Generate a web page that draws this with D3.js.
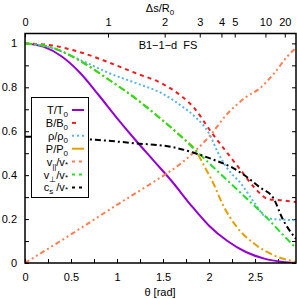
<!DOCTYPE html>
<meta charset="utf-8">
<style>
body { margin: 0; background: #fff; }
svg { display: block; font-family: "Liberation Sans", Arial, sans-serif; }
.axis text { font-size: 11px; fill: #000; }
.axis .domain { display: none; }
.axis line { stroke: #000; stroke-width: 1; }
.curve { fill: none; }
</style>
<body>
<svg width="297" height="299"></svg>
<script src="https://d3js.org/d3.v7.min.js"></script>
<script>

// theta [rad] sample points and values
var thetaT   = [0, 0.2, 0.4, 0.6, 0.8, 1.0, 1.2, 1.4, 1.6, 1.8, 2.0, 2.2, 2.4, 2.6, 2.8, 2.945];
var valT     = [1, 0.985, 0.94, 0.865, 0.765, 0.66, 0.56, 0.465, 0.37, 0.265, 0.17, 0.1, 0.05, 0.02, 0.005, 0];

var thetaB   = [0, 0.3, 0.6, 0.9, 1.2, 1.5, 1.7, 1.85, 2.0, 2.2, 2.35, 2.5, 2.65, 2.8, 2.945];
var valB     = [1, 0.99, 0.96, 0.915, 0.865, 0.815, 0.76, 0.70, 0.61, 0.5, 0.42, 0.34, 0.29, 0.285, 0.278];

var thetaRho = [0, 0.3, 0.6, 0.9, 1.2, 1.5, 1.7, 1.85, 2.0, 2.1, 2.2, 2.35, 2.5, 2.6, 2.7, 2.945];
var valRho   = [1, 0.978, 0.925, 0.867, 0.82, 0.77, 0.715, 0.665, 0.59, 0.5, 0.43, 0.36, 0.27, 0.215, 0.2, 0.195];

var thetaP   = [0, 0.3, 0.6, 0.9, 1.2, 1.5, 1.7, 1.85, 1.95, 2.05, 2.15, 2.3, 2.5, 2.7, 2.945];
var valP     = [1, 0.98, 0.92, 0.838, 0.75, 0.648, 0.575, 0.515, 0.44, 0.36, 0.265, 0.165, 0.085, 0.036, 0.005];

var thetaVpar = [0, 0.5, 1.0, 1.4, 1.7, 1.85, 2.0, 2.2, 2.4, 2.55, 2.7, 2.85, 2.945];
var valVpar   = [0, 0.13, 0.265, 0.37, 0.455, 0.51, 0.575, 0.68, 0.755, 0.795, 0.86, 0.94, 0.98];

var thetaVperp = [0, 0.3, 0.6, 0.9, 1.2, 1.5, 1.7, 1.85, 2.0, 2.2, 2.4, 2.6, 2.8, 2.945];
var valVperp   = [1, 0.98, 0.92, 0.838, 0.75, 0.648, 0.575, 0.515, 0.455, 0.376, 0.297, 0.218, 0.13, 0.068];

var thetaCs  = [0, 0.4, 0.8, 1.2, 1.6, 1.85, 2.05, 2.25, 2.4, 2.55, 2.7, 2.8, 2.945];
var valCs    = [0.575, 0.57, 0.56, 0.545, 0.528, 0.5, 0.47, 0.435, 0.395, 0.345, 0.295, 0.2, 0.11];

// top axis: delta s / R0 labels and the theta where they sit
var topTickLabels = ["0", "1", "2", "3", "4", "5", "10", "20"];
var topTickTheta  = [0, 0.902, 1.518, 1.899, 2.135, 2.279, 2.613, 2.823];

var xTicks = [0, 0.25, 0.5, 0.75, 1, 1.25, 1.5, 1.75, 2, 2.25, 2.5, 2.75];
var yTicks = [0, 0.1, 0.2, 0.3, 0.4, 0.5, 0.6, 0.7, 0.8, 0.9, 1.0];

// legend pieces: numerator, its subscript, denominator, its subscript
var series = [
  {num: "T", nsub: "", den: "/T", dsub: "0", x: thetaT, y: valT, color: "#9400d3", dash: null, key: null},
  {num: "B", nsub: "", den: "/B", dsub: "0", x: thetaB, y: valB, color: "#f21a1a", dash: "4,4", key: "4,8"},
  {num: "ρ", nsub: "", den: "/ρ", dsub: "0", x: thetaRho, y: valRho, color: "#56b4e9", dash: "2,2.5", key: "2,3"},
  {num: "P", nsub: "", den: "/P", dsub: "0", x: thetaP, y: valP, color: "#e69f00", dash: "7,3,2,3", key: null},
  {num: "v", nsub: "||", den: "/v", dsub: "*", x: thetaVpar, y: valVpar, color: "#ff7f50", dash: "5,3,2,3,2,3", key: "3,4"},
  {num: "v", nsub: "⊥", den: "/v", dsub: "*", x: thetaVperp, y: valVperp, color: "#22e022", dash: "7,3,2,3", key: "3,4"},
  {num: "c", nsub: "s", den: " /v", dsub: "*", x: thetaCs, y: valCs, color: "#000000", dash: "6,3,2,3", key: "3,4"}
];

var svg = d3.select("svg"),
    mL = 25, mR = 296, mT = 33.5, mB = 263;

var x = d3.scaleLinear().domain([0, 2.945]).range([mL, mR]),
    y = d3.scaleLinear().domain([0, 1.045]).range([mB, mT]);

svg.append("clipPath").attr("id", "clip")
  .append("rect").attr("x", mL).attr("y", mT)
  .attr("width", mR - mL).attr("height", mB - mT);

// axes, ticks inward
svg.append("g").attr("class", "axis")
    .attr("transform", "translate(0," + mB + ")")
    .call(d3.axisBottom(x).tickValues(xTicks).tickSize(-4).tickPadding(10)
      .tickFormat(function(d) { return (d * 2) % 1 === 0 ? String(d) : ""; }));

svg.append("g").attr("class", "axis")
    .attr("transform", "translate(0," + mT + ")")
    .call(d3.axisTop(x).tickValues(topTickTheta).tickSize(-4).tickPadding(8)
      .tickFormat(function(d, i) { return topTickLabels[i]; }));

svg.append("g").attr("class", "axis")
    .attr("transform", "translate(" + mL + ",0)")
    .call(d3.axisLeft(y).tickValues(yTicks).tickSize(-4).tickPadding(8)
      .tickFormat(function(d) { return Math.round(d * 10) % 2 === 0 ? String(+d.toFixed(1)) : ""; }));

svg.append("g").attr("class", "axis")
    .attr("transform", "translate(" + mR + ",0)")
    .call(d3.axisRight(y).tickValues(yTicks).tickSize(-4).tickFormat(""));

// axis titles
var xt = svg.append("text").attr("x", 160).attr("y", 12).attr("text-anchor", "middle")
    .style("font-size", "11px").text("Δs/R");
xt.append("tspan").attr("dy", 3).style("font-size", "8px").text("0");

svg.append("text").attr("x", 160).attr("y", 296).attr("text-anchor", "middle")
    .style("font-size", "11px").text("θ [rad]");

svg.append("text").attr("x", 168).attr("y", 49).attr("text-anchor", "middle")
    .style("font-size", "11px").attr("xml:space", "preserve").text("B1−1−d  FS");

// curves
var line = d3.line()
    .x(function(d) { return x(d[0]); })
    .y(function(d) { return y(d[1]); })
    .curve(d3.curveMonotoneX);

var plot = svg.append("g").attr("clip-path", "url(#clip)");

series.forEach(function(s) {
  plot.append("path")
      .attr("class", "curve")
      .attr("d", line(d3.zip(s.x, s.y)))
      .attr("stroke", s.color)
      .attr("stroke-width", 2)
      .attr("stroke-dasharray", s.dash);
});

// legend
var lg = svg.append("g");
lg.append("rect").attr("x", 31.5).attr("y", 97.5).attr("width", 57).attr("height", 100)
    .attr("fill", "#fff").attr("stroke", "#000").attr("stroke-width", 1);

series.forEach(function(s, i) {
  var yy = 110 + i * 12.9;
  var t = lg.append("text").attr("x", 68).attr("y", yy + 4).attr("text-anchor", "end")
      .style("font-size", "11px").attr("xml:space", "preserve");
  t.append("tspan").text(s.num);
  if (s.nsub) {
    t.append("tspan").attr("dy", 3).style("font-size", "8px").text(s.nsub);
    t.append("tspan").attr("dy", -3).text(s.den);
  } else {
    t.append("tspan").text(s.den);
  }
  t.append("tspan").attr("dy", s.dsub === "*" ? 1 : 3).style("font-size", "8px").text(s.dsub);
  lg.append("line").attr("x1", 72).attr("x2", 84).attr("y1", yy).attr("y2", yy)
      .attr("stroke", s.color).attr("stroke-width", 2)
      .attr("stroke-dasharray", s.key);
});

// frame
svg.append("rect").attr("x", mL).attr("y", mT)
    .attr("width", mR - mL).attr("height", mB - mT)
    .attr("fill", "none").attr("stroke", "#000").attr("stroke-width", 1.5);

</script>
</body>
